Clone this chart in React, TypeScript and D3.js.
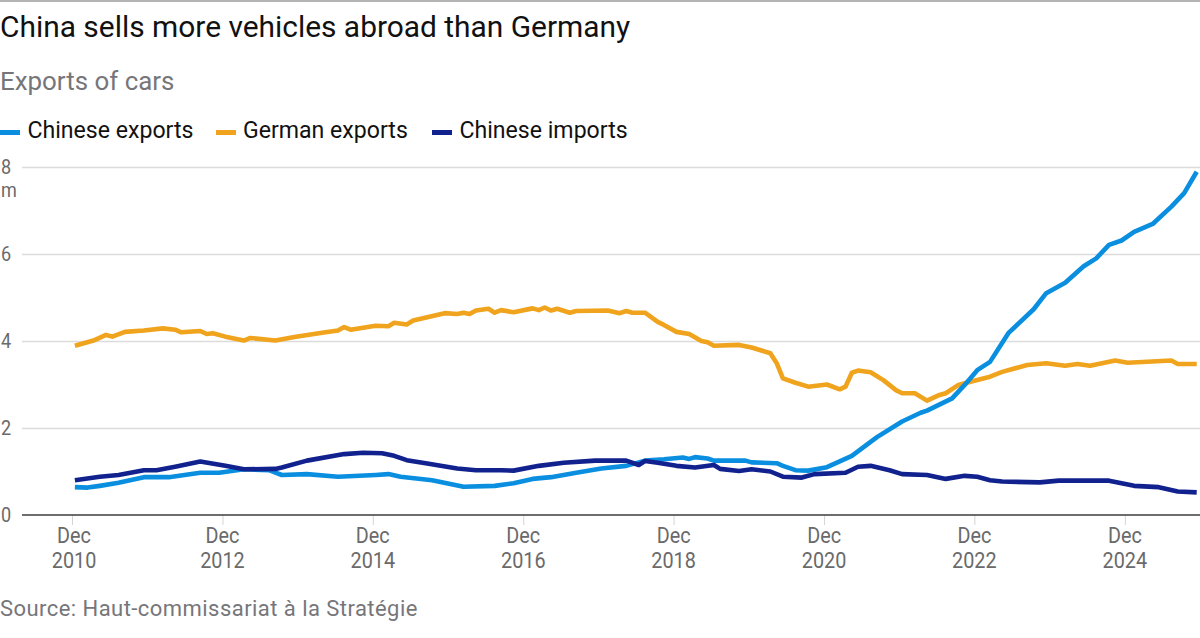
import { useRef, useEffect } from "react";
import * as d3 from "d3";

// months counted from Dec 2010, values in millions of cars
const chineseExportMonths = [0, 2, 4, 7, 11, 15, 20, 23, 27, 31, 33, 37, 42, 48, 50, 52, 57, 62, 67, 70, 73, 76, 80, 84, 88, 91, 94, 97, 98, 99, 101, 102, 107, 108, 112, 113, 115, 117, 120, 124, 128, 132, 135, 136, 140, 142, 144, 146, 149, 153, 155, 158, 161, 163, 165, 167, 169, 172, 175, 177, 179];
const chineseExports = [0.64, 0.63, 0.67, 0.74, 0.87, 0.87, 0.97, 0.97, 1.05, 1.03, 0.92, 0.94, 0.88, 0.92, 0.94, 0.88, 0.8, 0.65, 0.67, 0.73, 0.83, 0.87, 0.97, 1.07, 1.13, 1.25, 1.28, 1.32, 1.29, 1.33, 1.3, 1.25, 1.25, 1.21, 1.19, 1.13, 1.03, 1.02, 1.1, 1.36, 1.79, 2.15, 2.35, 2.4, 2.68, 2.99, 3.33, 3.52, 4.18, 4.73, 5.1, 5.34, 5.72, 5.9, 6.21, 6.31, 6.51, 6.69, 7.09, 7.4, 7.89];

const germanExportMonths = [0, 3, 5, 6, 8, 11, 14, 16, 17, 20, 21, 22, 24, 27, 28, 32, 35, 40, 42, 43, 44, 48, 50, 51, 53, 54, 59, 61, 62, 63, 64, 66, 67, 68, 70, 73, 74, 75, 76, 77, 79, 80, 85, 87, 88, 89, 91, 93, 94, 96, 98, 100, 101, 102, 106, 108, 111, 112, 113, 115, 117, 120, 122, 123, 124, 125, 127, 129, 131, 132, 134, 136, 138, 139, 141, 142, 146, 148, 152, 155, 158, 160, 162, 166, 168, 175, 176, 179];
const germanExports = [3.89, 4.01, 4.14, 4.1, 4.21, 4.24, 4.29, 4.26, 4.2, 4.23, 4.16, 4.18, 4.1, 4.01, 4.07, 4.01, 4.09, 4.2, 4.24, 4.32, 4.26, 4.35, 4.34, 4.42, 4.38, 4.47, 4.64, 4.62, 4.65, 4.62, 4.7, 4.74, 4.65, 4.71, 4.66, 4.75, 4.71, 4.77, 4.7, 4.74, 4.65, 4.69, 4.7, 4.64, 4.69, 4.65, 4.65, 4.44, 4.37, 4.21, 4.16, 4.0, 3.97, 3.89, 3.91, 3.85, 3.72, 3.49, 3.14, 3.04, 2.95, 3.0, 2.89, 2.95, 3.27, 3.32, 3.28, 3.1, 2.87, 2.8, 2.8, 2.63, 2.76, 2.8, 2.99, 3.03, 3.18, 3.29, 3.45, 3.49, 3.43, 3.47, 3.43, 3.55, 3.5, 3.55, 3.47, 3.47];

const chineseImportMonths = [0, 4, 7, 11, 13, 16, 20, 24, 27, 32, 33, 37, 43, 46, 49, 51, 53, 56, 61, 64, 68, 70, 74, 78, 83, 88, 90, 91, 93, 96, 99, 102, 103, 106, 108, 111, 113, 116, 118, 123, 125, 127, 130, 132, 136, 139, 142, 144, 146, 148, 154, 157, 165, 169, 173, 176, 179];
const chineseImports = [0.8, 0.88, 0.92, 1.03, 1.03, 1.11, 1.23, 1.13, 1.05, 1.06, 1.09, 1.25, 1.4, 1.43, 1.42, 1.36, 1.26, 1.19, 1.07, 1.03, 1.03, 1.02, 1.13, 1.2, 1.25, 1.25, 1.15, 1.24, 1.2, 1.13, 1.09, 1.15, 1.06, 1.01, 1.05, 1.0, 0.88, 0.86, 0.94, 0.97, 1.11, 1.13, 1.03, 0.94, 0.92, 0.83, 0.9, 0.88, 0.8, 0.77, 0.75, 0.79, 0.79, 0.67, 0.64, 0.54, 0.52];

const yTicks = [0, 2, 4, 6, 8];
const xTickYears = [2010, 2012, 2014, 2016, 2018, 2020, 2022, 2024];

const seriesNames = ["Chinese exports", "German exports", "Chinese imports"];
const seriesColors = ["#0a8ee0", "#f0a31c", "#11228f"];

const SANS = "Roboto, sans-serif";
const TICK_GREY = "#6a6a6a";

const toDate = (m: number) => d3.timeDay.offset(new Date(2010, 11 + m, 1), 14);

export default function App() {
  const svgRef = useRef<SVGSVGElement>(null);

  useEffect(() => {
    const svg = d3.select(svgRef.current);
    svg.selectAll("*").remove();

    const width = 1200;
    const height = 638;

    const x = d3
      .scaleTime()
      .domain([new Date(2010, 11, 1), new Date(2025, 11, 1)])
      .range([72, 1200]);
    const y = d3.scaleLinear().domain([0, 8]).range([515, 167]);

    svg.append("rect").attr("width", width).attr("height", 2).attr("fill", "#b4b4b4");

    svg.append("text")
      .attr("x", 0)
      .attr("y", 37)
      .attr("font-family", SANS)
      .attr("font-size", 29.9)
      .attr("fill", "#111")
      .text("China sells more vehicles abroad than Germany");

    svg.append("text")
      .attr("x", 0)
      .attr("y", 90)
      .attr("font-family", SANS)
      .attr("font-size", 25.9)
      .attr("fill", "#76767a")
      .text("Exports of cars");

    // legend
    const legendKeyX = [0, 216, 432];
    const legendTextX = [27.5, 243, 459.5];
    seriesNames.forEach((name, i) => {
      svg.append("rect")
        .attr("x", legendKeyX[i])
        .attr("y", 130)
        .attr("width", 20)
        .attr("height", 5)
        .attr("fill", seriesColors[i]);
      svg.append("text")
        .attr("x", legendTextX[i])
        .attr("y", 138)
        .attr("font-family", SANS)
        .attr("font-size", 23.1)
        .attr("fill", "#111")
        .text(name);
    });

    // grid
    const grid = svg.append("g").attr("transform", "translate(22,0)");
    grid.call(d3.axisLeft(y).tickValues(yTicks.slice(1)).tickSize(-1178).tickFormat(() => ""));
    grid.select(".domain").remove();
    grid.selectAll("line").attr("stroke", "#dcdcdc").attr("stroke-width", 1.5);

    // labels squeezed because the original face is condensed
    const narrowLabel = (tx: number, ty: number, anchor: string, size: number, text: string | number) =>
      svg.append("text")
        .attr("transform", `translate(${tx},${ty}) scale(0.88,1)`)
        .attr("text-anchor", anchor)
        .attr("font-family", SANS)
        .attr("font-size", size)
        .attr("fill", TICK_GREY)
        .text(text);

    yTicks.forEach((d) => narrowLabel(1, y(d) + 6.5, "start", 20.5, d));
    narrowLabel(1, 197, "start", 20.5, "m");

    // x axis
    const xAxis = svg.append("g").attr("transform", `translate(0,${y(0)})`);
    xAxis.call(
      d3
        .axisBottom(x)
        .tickValues(xTickYears.map((yr) => new Date(yr, 11, 1)))
        .tickSize(10)
        .tickFormat(() => ""),
    );
    xAxis.select(".domain").remove();
    xAxis.selectAll("line").attr("stroke", "#d4d4d4").attr("stroke-width", 1);
    svg.append("line")
      .attr("x1", 22)
      .attr("x2", 1200)
      .attr("y1", y(0))
      .attr("y2", y(0))
      .attr("stroke", "#3d3d3d")
      .attr("stroke-width", 1.6);

    xTickYears.forEach((yr, i) => {
      const tx = x(new Date(yr, 11, 1)) + (i === 0 ? 2 : 0);
      narrowLabel(tx, 543, "middle", 22.5, "Dec");
      narrowLabel(tx, 568, "middle", 22.5, yr);
    });

    // lines
    const line = d3
      .line<[number, number]>()
      .x((d) => x(toDate(d[0])))
      .y((d) => y(d[1]));

    const series: [number[], number[], string][] = [
      [germanExportMonths, germanExports, seriesColors[1]],
      [chineseExportMonths, chineseExports, seriesColors[0]],
      [chineseImportMonths, chineseImports, seriesColors[2]],
    ];
    series.forEach(([months, values, color]) => {
      svg.append("path")
        .datum(months.map((m, j) => [m, values[j]] as [number, number]))
        .attr("d", line)
        .attr("fill", "none")
        .attr("stroke", color)
        .attr("stroke-width", 4.6)
        .attr("stroke-linejoin", "round");
    });

    svg.append("text")
      .attr("x", 0)
      .attr("y", 616)
      .attr("font-family", SANS)
      .attr("font-size", 22)
      .attr("letter-spacing", 0.45)
      .attr("fill", "#76767a")
      .text("Source: Haut-commissariat à la Stratégie");
  }, []);

  return (
    <svg
      ref={svgRef}
      width={1200}
      height={638}
      style={{ position: "absolute", left: 0, top: 0, background: "#fff" }}
    />
  );
}
